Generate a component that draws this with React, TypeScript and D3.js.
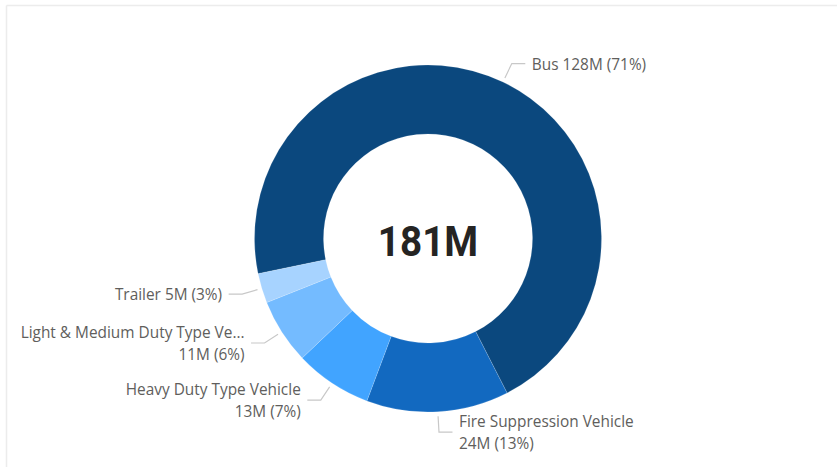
import React from "react";
import * as d3 from "d3";

const categories = ["Bus", "Fire Suppression Vehicle", "Heavy Duty Type Vehicle", "Light & Medium Duty Type Vehicle", "Trailer"];
const displayNames = ["Bus", "Fire Suppression Vehicle", "Heavy Duty Type Vehicle", "Light & Medium Duty Type Ve...", "Trailer"];
const values = [128, 24, 13, 11, 5];
const colors = ["#0B487E", "#1269C0", "#41A4FF", "#74BBFF", "#A7D3FF"];
const totalLabel = "181M";
const startDeg = 258.3;

const W = 837;
const H = 467;
const cx = 428;
const cy = 238.5;
const outerR = 173.5;
const innerR = 104.5;

export default function App() {
  const total = d3.sum(values);
  const start = (startDeg * Math.PI) / 180;
  const pie = d3
    .pie<number>()
    .sort(null)
    .startAngle(start)
    .endAngle(start + 2 * Math.PI)(values);
  const arc = d3.arc<d3.PieArcDatum<number>>().innerRadius(innerR).outerRadius(outerR);
  const lineH = 21.7;
  const font = "'Open Sans', 'Noto Sans', sans-serif";

  const pt = (a: number, r: number) => [cx + r * Math.sin(a), cy - r * Math.cos(a)];

  return (
    <svg width={W} height={H} style={{ position: "absolute", left: 0, top: 0, background: "#fff" }}>
      <line x1={6.5} y1={5.5} x2={W} y2={5.5} stroke="#ECECEC" strokeWidth={1.5} />
      <line x1={6.5} y1={5.5} x2={6.5} y2={H} stroke="#ECECEC" strokeWidth={1.5} />
      <g transform={`translate(${cx},${cy})`}>
        {pie.map((d, i) => (
          <path key={categories[i]} d={arc(d) || ""} fill={colors[i]} stroke="#ffffff" strokeOpacity={0.25} strokeWidth={0.6} />
        ))}
      </g>
      {pie.map((d, i) => {
        const mid = (d.startAngle + d.endAngle) / 2;
        const p0 = pt(mid, 178);
        const p1 = pt(mid, 194);
        const right = Math.sin(mid) > 0;
        const p2 = [p1[0] + (right ? 13.5 : -13.5), p1[1]];
        const tx = p2[0] + (right ? 6.5 : -6.5);
        const pct = Math.round((values[i] / total) * 100);
        const valueText = `${values[i]}M (${pct}%)`;
        const twoLines = displayNames[i].length > 18;
        const lines = twoLines ? [displayNames[i], valueText] : [`${displayNames[i]} ${valueText}`];
        const y0 = p1[1] - ((lines.length - 1) * lineH) / 2 + 6;
        return (
          <g key={"lab" + i}>
            <polyline
              points={[p0, p1, p2].map((p) => p.join(",")).join(" ")}
              fill="none"
              stroke="#C8C8C8"
              strokeWidth={1.2}
            />
            <text
              x={tx}
              textAnchor={right ? "start" : "end"}
              fontFamily={font}
              fontSize={15.4}
              fill="#605E5C"
            >
              {lines.map((l, j) => (
                <tspan key={j} x={tx} y={y0 + j * lineH}>
                  {l}
                </tspan>
              ))}
            </text>
          </g>
        );
      })}
      <g transform={`translate(${cx},${cy + 17}) scale(0.92,1)`}>
        <text
          x={0}
          y={0}
          textAnchor="middle"
          fontFamily="Roboto, 'DejaVu Sans', sans-serif"
          fontWeight={700}
          fontSize={42}
          fill="#252423"
        >
          {totalLabel}
        </text>
      </g>
    </svg>
  );
}
